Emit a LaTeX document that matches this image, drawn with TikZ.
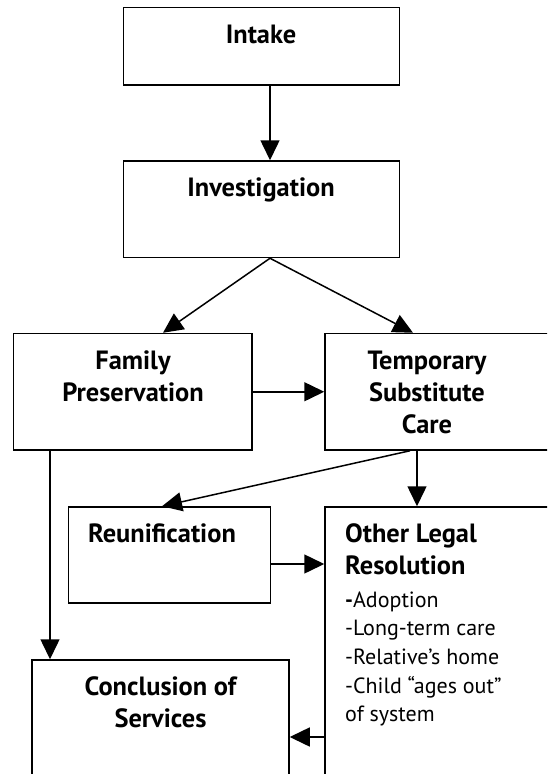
\documentclass[tikz,border=0pt]{standalone}
\usepackage{fontspec}
\setmainfont{PT Sans}
\usetikzlibrary{arrows.meta}
\newcommand\bft{\bfseries\fontsize{26.4}{32}\selectfont}
\newcommand\rgt{\fontsize{22}{28.7}\selectfont}
\begin{document}
\begin{tikzpicture}[x=1pt,y=-1pt,
  box/.style={draw, line width=1.5pt, inner sep=0pt},
  ttl/.style={inner sep=0pt, anchor=base, font=\bft},
  lst/.style={inner sep=0pt, anchor=base west, font=\rgt},
  conn/.style={line width=1.5pt, -{Triangle[length=20pt,width=19pt]}}]
\useasboundingbox (0,0) rectangle (547,774);
\clip (0,0) rectangle (547,774);
% boxes
\node[box, minimum width=276pt, minimum height=77.5pt] (intake) at (261.5,46.25) {};
\node[box, minimum width=276pt, minimum height=96.5pt] (invest) at (261.5,209.25) {};
\node[box, minimum width=238.5pt, minimum height=116.5pt] (fp) at (132.75,391.75) {};
\node[box, minimum width=275pt, minimum height=116.5pt] (tsc) at (462.5,391.75) {};
\node[box, minimum width=202pt, minimum height=96pt] (reun) at (169.5,555) {};
\node[box, minimum width=275pt, minimum height=343pt] (olr) at (462.5,678.5) {};
\node[box, minimum width=257pt, minimum height=190pt] (concl) at (160.5,755) {};
% texts
\node[ttl] (tintake) at (261,43) {Intake};
\node[ttl] (tinvest) at (261,196) {Investigation};
\node[ttl] (tfp) at (133,369) {\begin{tabular}[t]{@{}c@{}}Family\\Preservation\end{tabular}};
\node[ttl] (ttsc) at (427,369) {\begin{tabular}[t]{@{}c@{}}Temporary\\Substitute\\Care\end{tabular}};
\node[ttl] (treun) at (162,542) {Reunification};
\node[ttl, anchor=base west] (tolr) at (345,542) {\begin{tabular}[t]{@{}l@{}}Other Legal\\Resolution\end{tabular}};
\node[lst] (lolr) at (345,607) {\begin{tabular}[t]{@{}l@{}}\textbf{-}Adoption\\-Long-term care\\-Relative’s home\\-Child “ages out”\\of system\end{tabular}};
\node[ttl] (tconcl) at (160.5,695) {\begin{tabular}[t]{@{}c@{}}Conclusion of\\Services\end{tabular}};
% helper points
\coordinate (r1) at ([yshift=-9pt]reun.east);
\coordinate (o1) at (325,737);
% connectors
\draw[conn] ([xshift=8.5pt]intake.south) -- ([xshift=8.5pt]invest.north);
\draw[conn] ([xshift=8.5pt]invest.south) -- ([xshift=30.25pt]fp.north);
\draw[conn] ([xshift=8.5pt]invest.south) -- ([xshift=-49.5pt]tsc.north);
\draw[conn] (fp.east) -- (tsc.west);
\draw[conn] ([xshift=-52.5pt]tsc.south) -- ([xshift=-7.5pt]reun.north);
\draw[conn] ([xshift=-45.5pt]tsc.south) -- ([xshift=-45.5pt]olr.north);
\draw[conn] (r1) -- (r1 -| olr.west);
\draw[conn] ([xshift=-82.75pt]fp.south) -- ([xshift=-110.5pt]concl.north);
\draw[conn] (o1) -- (o1 -| concl.east);
\end{tikzpicture}
\end{document}
